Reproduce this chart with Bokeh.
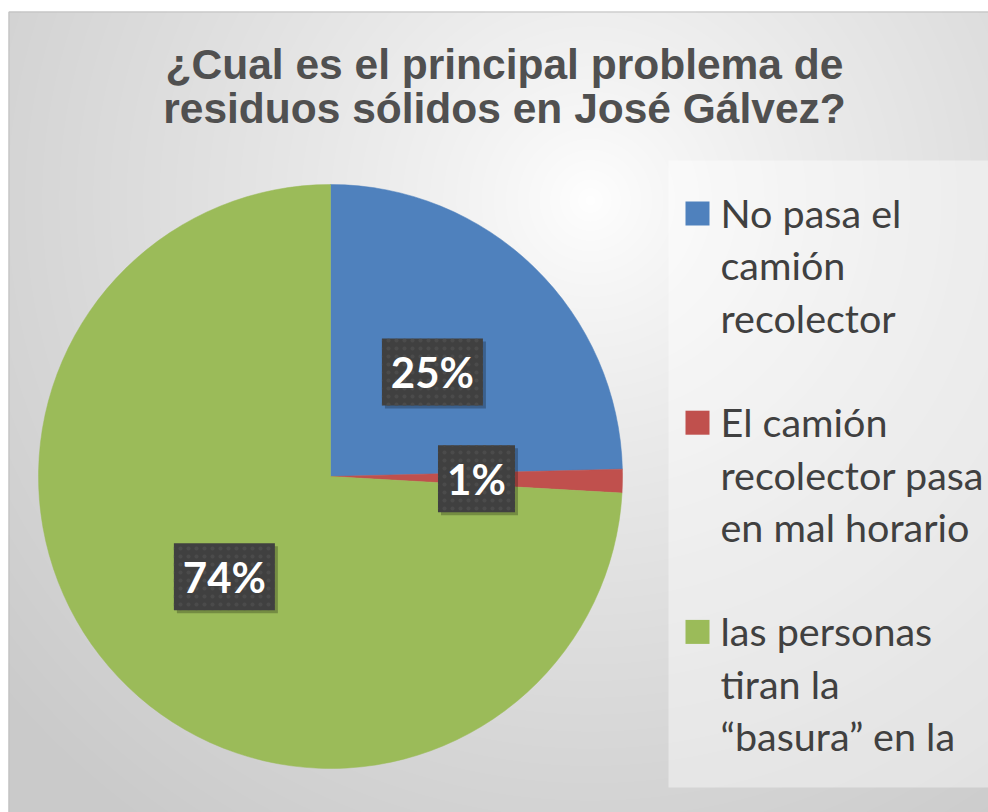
import numpy as np
from bokeh.plotting import figure
from bokeh.models import Range1d, ColumnDataSource
from bokeh.core.properties import value
from bokeh.embed import file_html
from bokeh.resources import INLINE

# ---- data ----
title_lines = ["¿Cual es el principal problema de", "residuos sólidos en José Gálvez?"]
categories = ["No pasa el camión recolector",
              "El camión recolector pasa en mal horario",
              "las personas tiran la “basura” en la"]
legend_lines = [["No pasa el", "camión", "recolector"],
                ["El camión", "recolector pasa", "en mal horario"],
                ["las personas", "tiran la", "“basura” en la"]]
values = [24.6, 1.3, 74.1]
colors = ["#4F81BD", "#C0504D", "#9BBB59"]

# ---- layout (page pixel coordinates; data y = -page y) ----
W, H = 988, 812
p = figure(width=W, height=H, x_range=Range1d(0, W), y_range=Range1d(-H, 0),
           output_backend="svg", toolbar_location=None, min_border=0,
           x_axis_location=None, y_axis_location=None)
p.grid.visible = False
p.outline_line_color = None
p.background_fill_color = "white"
p.border_fill_color = "white"

# background radial gradient
left, top = 8, 11
nx, ny = W - left, H - top
px = left + np.arange(nx) + 0.5
py = H - (np.arange(ny) + 0.5)
PX, PY = np.meshgrid(px, py)
gx, gy = 590, 200
d = np.sqrt((PX - gx) ** 2 + (PY - gy) ** 2)
v = 255 - 53 * np.clip(d / 780, 0, 1) ** 0.8
v = v.astype(np.uint32)
img = (np.uint32(255) << 24) | (v << 16) | (v << 8) | v
p.image_rgba(image=[img.astype(np.uint32)], x=left, y=-H, dw=nx, dh=ny)
# chart border
p.line(x=[left + 0.5, left + 0.5, W], y=[-H, -(top + 0.5), -(top + 0.5)],
       line_color="#BFBFBF", line_width=1)

# legend panel
p.quad(left=668, right=W, top=-160, bottom=-787, fill_color="white", fill_alpha=0.42, line_color=None)

# ---- pie ----
cx, cy, r = 330, -476, 292
vals = np.array(values, dtype=float)
frac = vals / vals.sum()
cum = np.concatenate([[0], np.cumsum(frac)])
start = np.pi / 2 - 2 * np.pi * cum[:-1]
end = np.pi / 2 - 2 * np.pi * cum[1:]
src = ColumnDataSource(dict(start=start, end=end, color=colors, cat=categories))
p.wedge(x=cx, y=cy, radius=r, start_angle="start", end_angle="end", direction="clock",
        fill_color="color", line_color="color", line_width=0.5, source=src)

# data labels
mid = (start + end) / 2
labels = [f"{round(f * 100)}%" for f in frac]
lx = cx + 0.5 * r * np.cos(mid)
ly = cy + 0.5 * r * np.sin(mid)
bw = [24 * len(s) + 29 for s in labels]
lsrc = ColumnDataSource(dict(x=lx, y=ly, xs=lx + 3, ys=ly - 3, w=bw, t=labels))
p.rect(x="xs", y="ys", width="w", height=67, width_units="screen", height_units="screen",
       fill_color="black", fill_alpha=0.25, line_color=None, source=lsrc)
p.rect(x="x", y="y", width="w", height=67, width_units="screen", height_units="screen",
       fill_color="#404040", line_color=None, hatch_pattern="dot", hatch_color="#4B4B4B",
       hatch_scale=8, hatch_weight=1.5, source=lsrc)
p.text(x="x", y="y", text="t", text_align="center", text_baseline="middle",
       text_font=value("Lato"), text_font_style="bold", text_font_size="42px",
       text_color="white", source=lsrc)

# ---- title ----
p.text(x=[504, 504], y=[-64, -108], text=title_lines, text_align="center", text_baseline="alphabetic",
       text_font=value("Liberation Sans"), text_font_style="bold", text_font_size="42.5px",
       text_color="#505050")

# ---- legend ----
step = 52.3
base0 = 213
tx, ty, tt = [], [], []
sqx, sqy, sqc = [], [], []
k = 0
for i, lines in enumerate(legend_lines):
    sqx.append(697)
    sqy.append(-(base0 + step * k))
    sqc.append(colors[i])
    for ln in lines:
        tx.append(720)
        ty.append(-(base0 + step * k - 1))
        tt.append(ln)
        k += 1
    k += 1
p.rect(x=sqx, y=sqy, width=24, height=24, width_units="screen", height_units="screen",
       fill_color=sqc, line_color=None)
p.text(x=tx, y=ty, text=tt, text_align="left", text_baseline="alphabetic",
       text_font=value("Lato"), text_font_size="39.5px", text_color="#404040")

open("out.html", "w").write(file_html(p, INLINE))
